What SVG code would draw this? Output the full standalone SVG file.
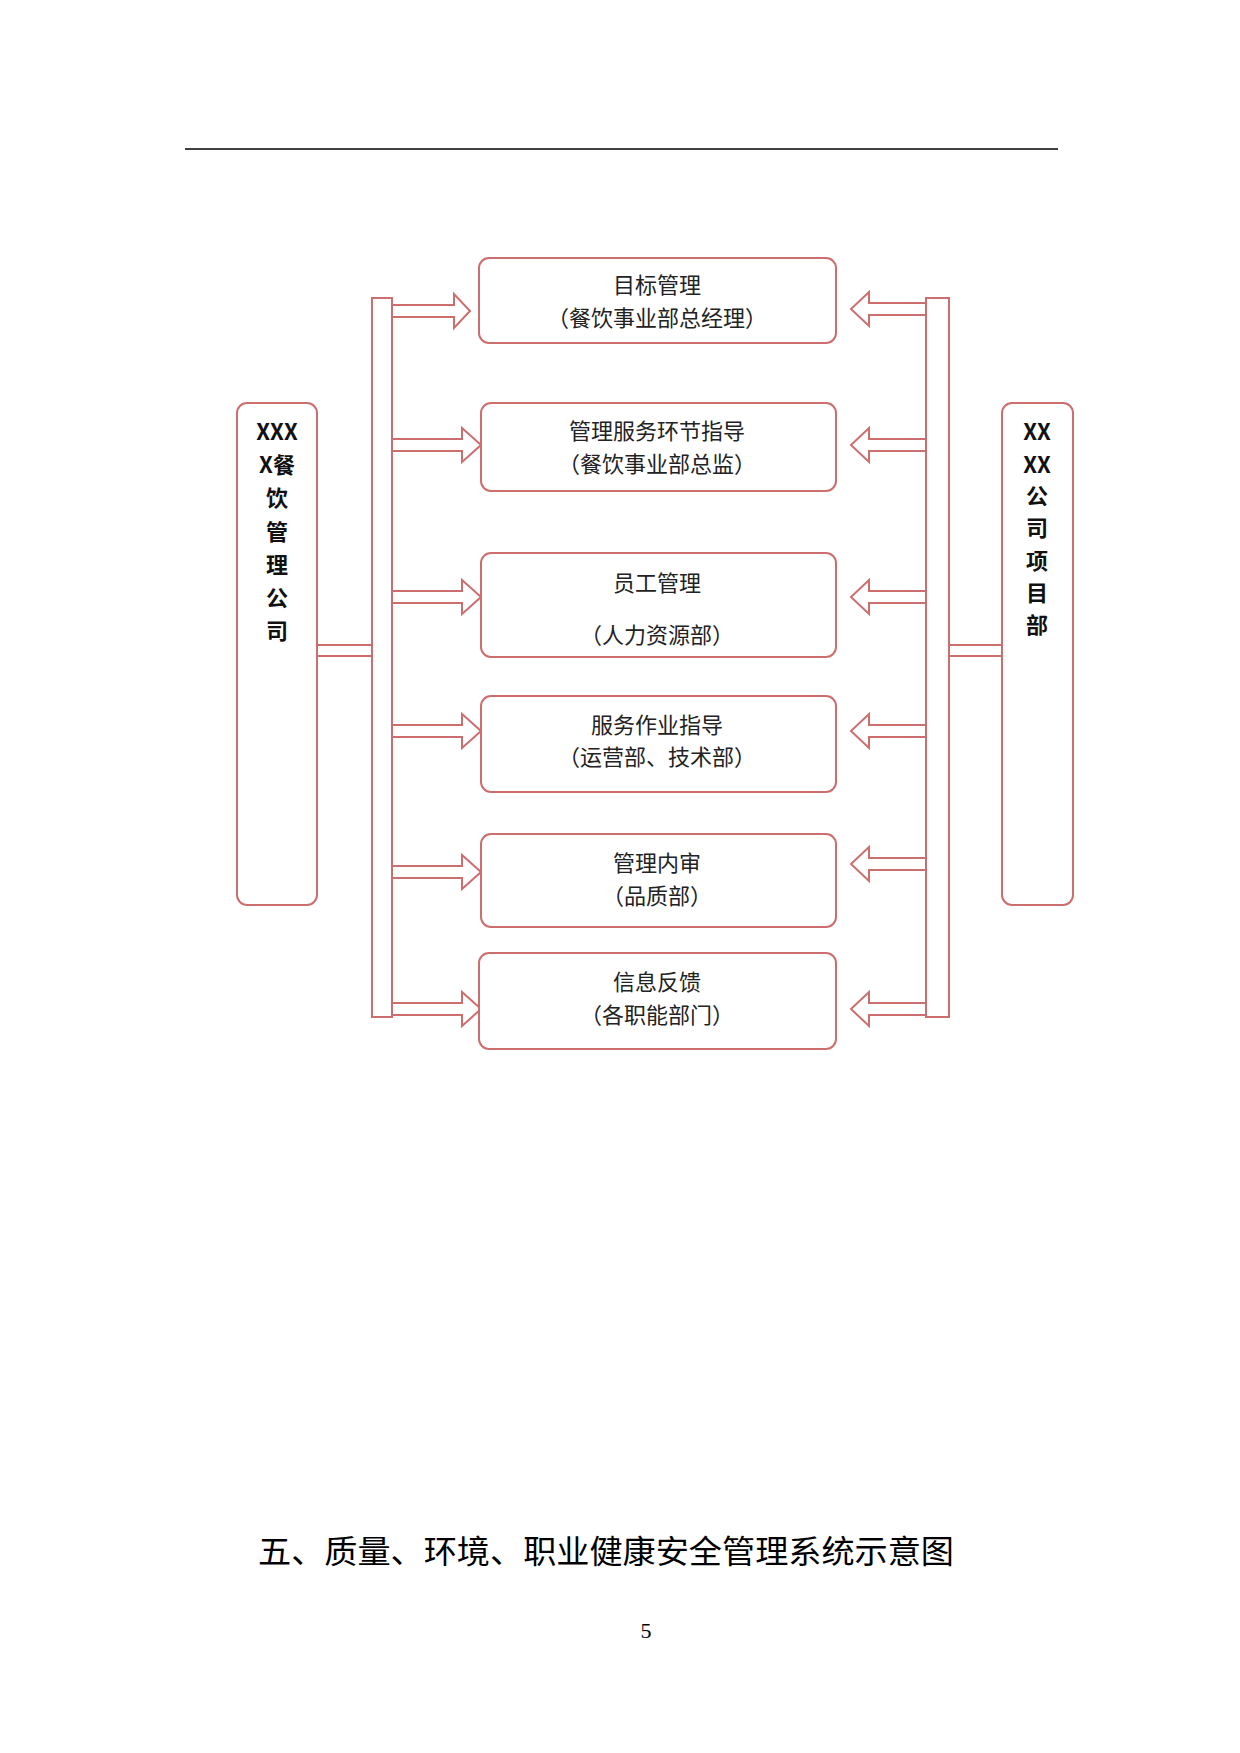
<svg xmlns="http://www.w3.org/2000/svg" width="1240" height="1753" viewBox="0 0 1240 1753">
<style>
.b{fill:#fff;stroke:#cd6e6e;stroke-width:2}
.a{fill:#fff;stroke:#cd6e6e;stroke-width:2;stroke-linejoin:miter}
.t{font-family:"Noto Sans CJK SC",sans-serif;font-size:22px;fill:#222;text-anchor:middle;dominant-baseline:central}
.v{font-family:"Noto Sans CJK SC",sans-serif;font-size:22px;font-weight:bold;fill:#111;text-anchor:middle;dominant-baseline:central}
</style>
<rect width="1240" height="1753" fill="#fff"/>
<line x1="185" y1="149" x2="1058" y2="149" stroke="#000" stroke-width="1.5"/>
<g id="connectors">
<rect class="b" x="317" y="645" width="55" height="11"/>
<rect class="b" x="949" y="645" width="53" height="11"/>
<rect class="b" x="372" y="298" width="20" height="719"/>
<rect class="b" x="926" y="298" width="23" height="719"/>
<g id="la">
<path class="a" d="M392,305 H454 V294 L470,311 L454,328 V317 H392 Z"/>
<path class="a" d="M392,439 H462 V428 L481,445 L462,462 V451 H392 Z"/>
<path class="a" d="M392,591 H462 V580 L481,597 L462,614 V603 H392 Z"/>
<path class="a" d="M392,725 H462 V714 L481,731 L462,748 V737 H392 Z"/>
<path class="a" d="M392,866 H462 V855 L481,872 L462,889 V878 H392 Z"/>
<path class="a" d="M392,1003 H462 V992 L481,1009 L462,1026 V1015 H392 Z"/>
</g>
<g id="ra">
<path class="a" d="M926,303 H869 V292 L851,309 L869,326 V315 H926 Z"/>
<path class="a" d="M926,439 H869 V428 L851,445 L869,462 V451 H926 Z"/>
<path class="a" d="M926,591 H869 V580 L851,597 L869,614 V603 H926 Z"/>
<path class="a" d="M926,725 H869 V714 L851,731 L869,748 V737 H926 Z"/>
<path class="a" d="M926,858 H869 V847 L851,864 L869,881 V870 H926 Z"/>
<path class="a" d="M926,1003 H869 V992 L851,1009 L869,1026 V1015 H926 Z"/>
</g>
</g>
<g id="left"><rect class="b" x="237" y="403" width="80" height="502" rx="10"/>
<text class="v" x="277" y="430">XXX</text><text class="v" x="277" y="463">X餐</text><text class="v" x="277" y="496">饮</text><text class="v" x="277" y="530">管</text><text class="v" x="277" y="563">理</text><text class="v" x="277" y="596">公</text><text class="v" x="277" y="629">司</text></g>
<g id="right"><rect class="b" x="1002" y="403" width="71" height="502" rx="10"/>
<text class="v" x="1037" y="430">XX</text><text class="v" x="1037" y="463">XX</text><text class="v" x="1037" y="494">公</text><text class="v" x="1037" y="526">司</text><text class="v" x="1037" y="559">项</text><text class="v" x="1037" y="591">目</text><text class="v" x="1037" y="623">部</text></g>
<g id="n1"><rect class="b" x="479" y="258" width="357" height="85" rx="10"/><text class="t" x="657" y="283">目标管理</text><text class="t" x="657" y="316">（餐饮事业部总经理）</text></g>
<g id="n2"><rect class="b" x="481" y="403" width="355" height="88" rx="10"/><text class="t" x="657" y="429">管理服务环节指导</text><text class="t" x="657" y="462">（餐饮事业部总监）</text></g>
<g id="n3"><rect class="b" x="481" y="553" width="355" height="104" rx="10"/><text class="t" x="657" y="581">员工管理</text><text class="t" x="657" y="633">（人力资源部）</text></g>
<g id="n4"><rect class="b" x="481" y="696" width="355" height="96" rx="10"/><text class="t" x="657" y="723">服务作业指导</text><text class="t" x="657" y="755">（运营部、技术部）</text></g>
<g id="n5"><rect class="b" x="481" y="834" width="355" height="93" rx="10"/><text class="t" x="657" y="861">管理内审</text><text class="t" x="657" y="894">（品质部）</text></g>
<g id="n6"><rect class="b" x="479" y="953" width="357" height="96" rx="10"/><text class="t" x="657" y="980">信息反馈</text><text class="t" x="657" y="1013">（各职能部门）</text></g>
<text x="258" y="1563" font-family="'Noto Sans CJK SC',sans-serif" font-size="32" textLength="696" lengthAdjust="spacingAndGlyphs" fill="#000">五、质量、环境、职业健康安全管理系统示意图</text>
<text x="646" y="1638" font-family="'Liberation Serif',serif" font-size="22" text-anchor="middle" fill="#000">5</text>
</svg>
